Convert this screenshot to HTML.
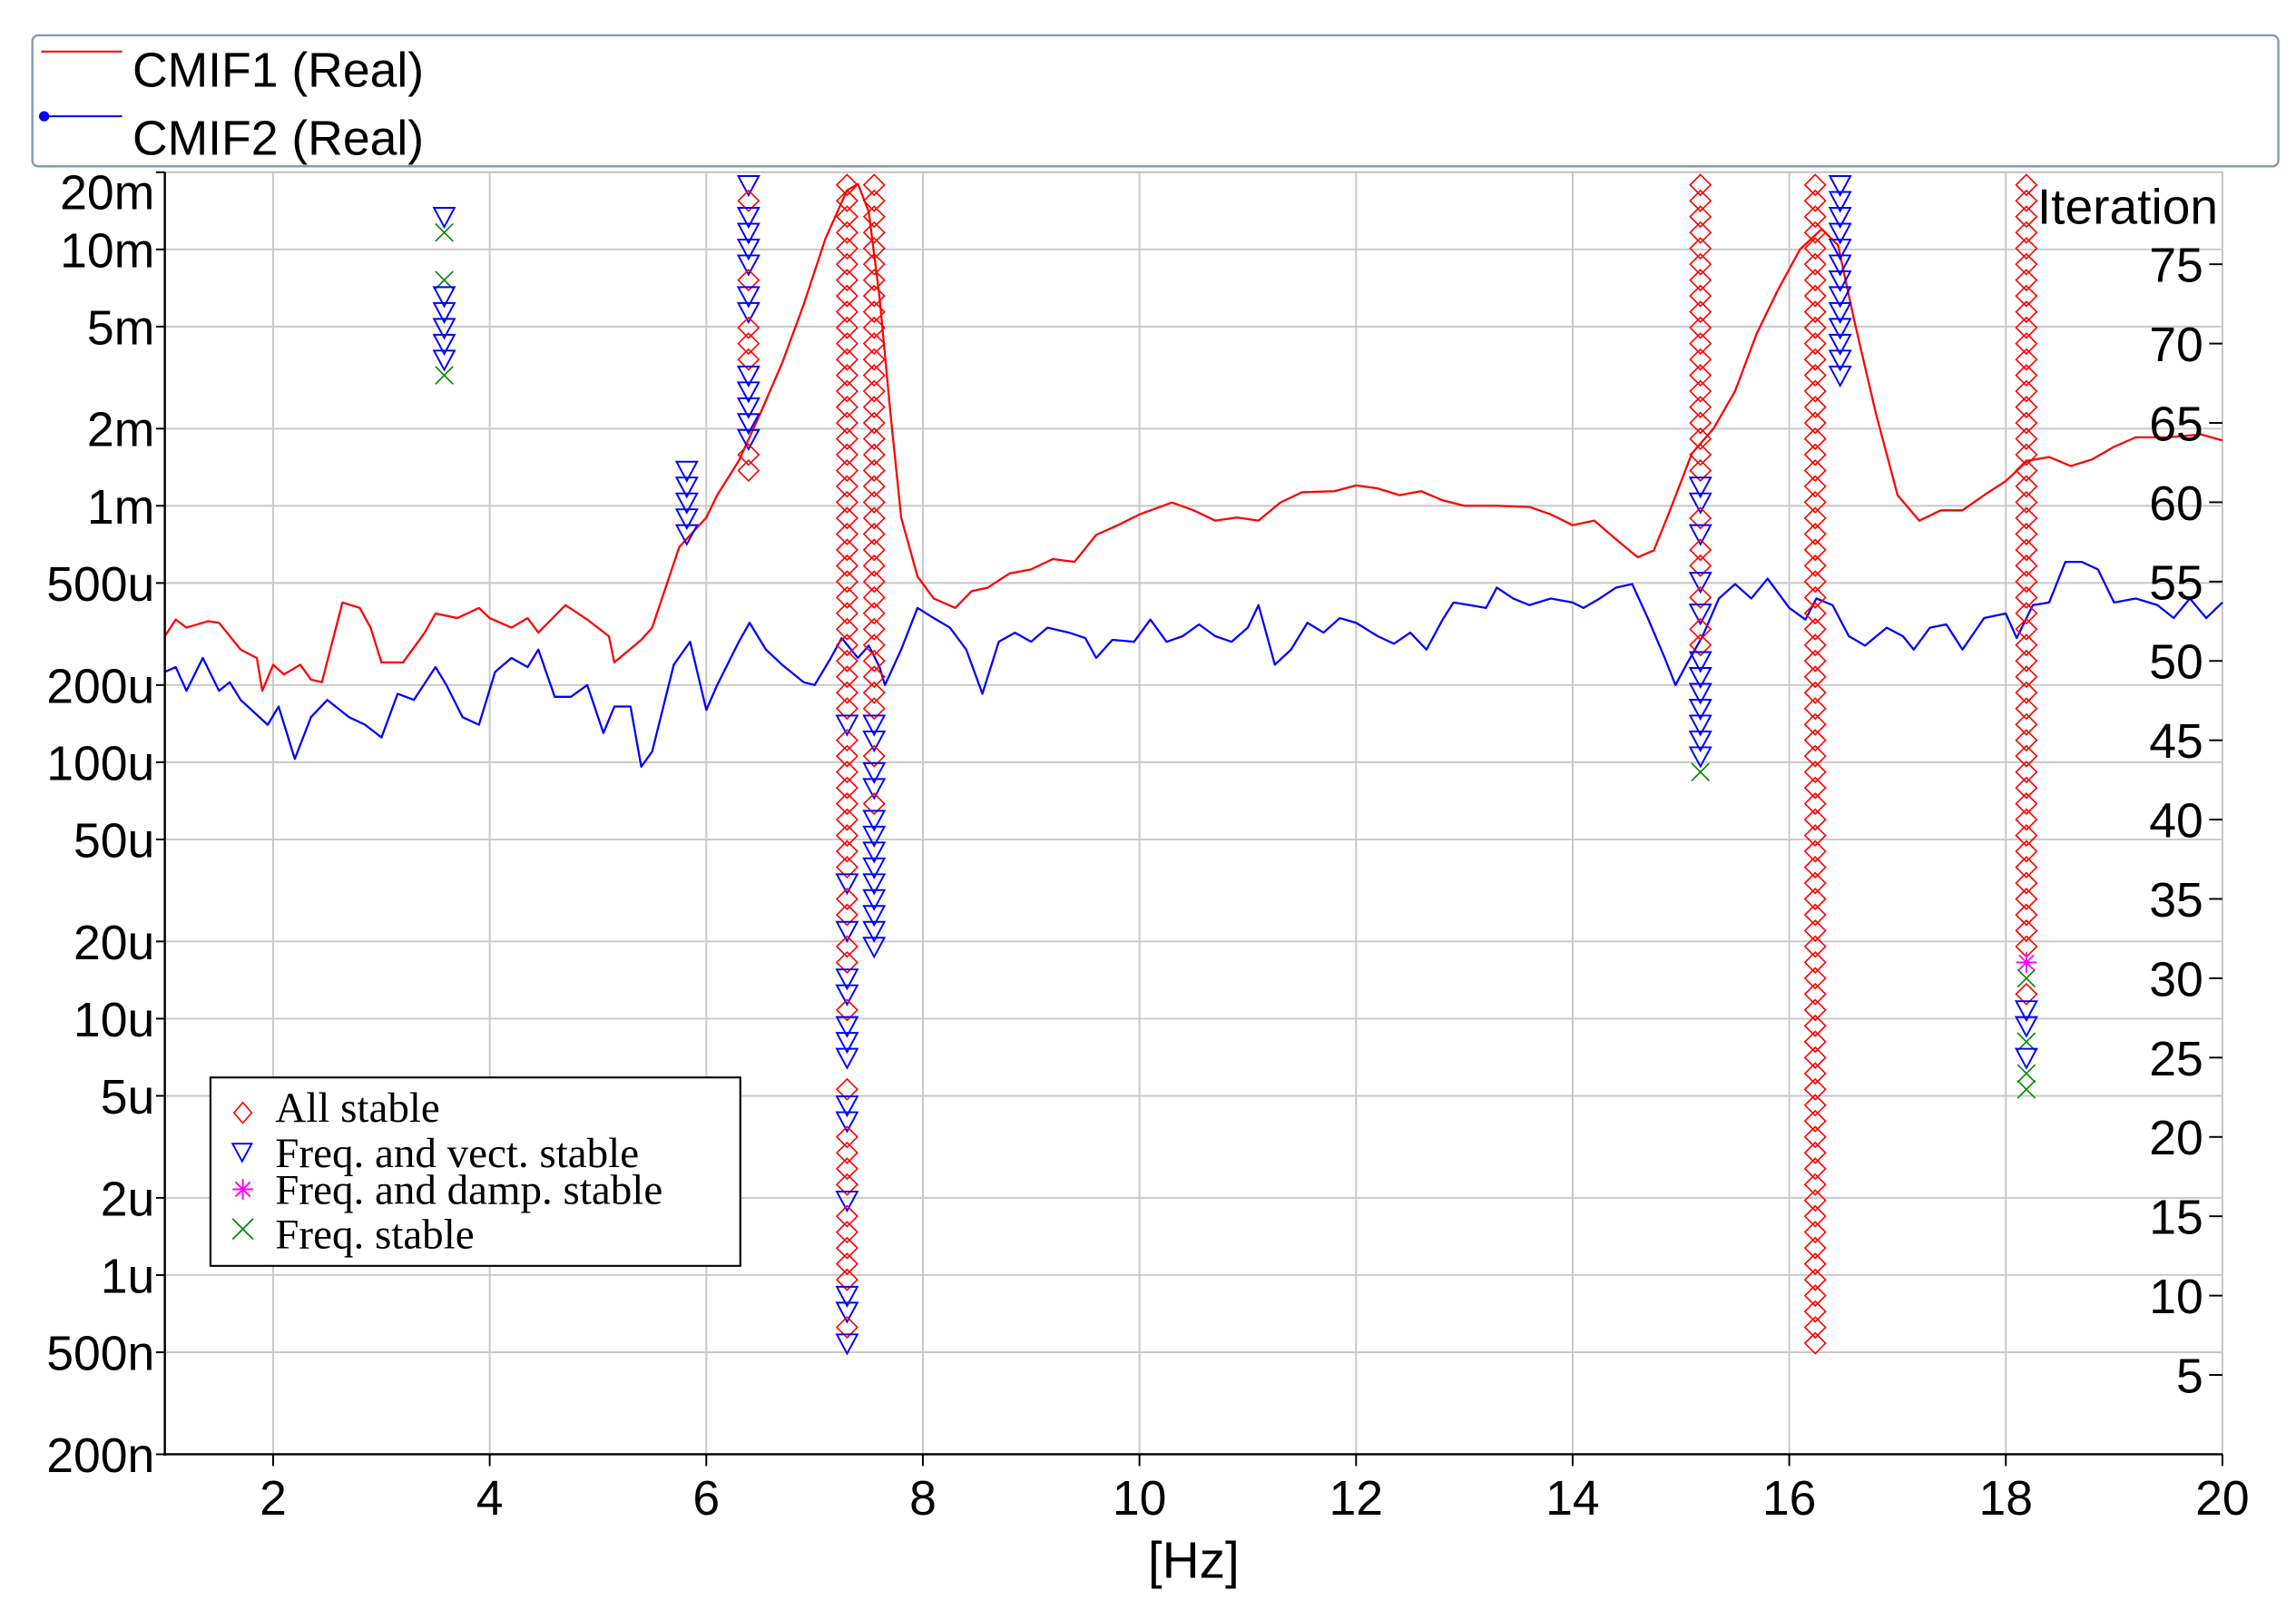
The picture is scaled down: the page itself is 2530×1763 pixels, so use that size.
<!DOCTYPE html>
<html><head><meta charset="utf-8">
<style>
html,body{margin:0;padding:0;background:#fff;}
svg{display:block;}
text{font-family:"Liberation Sans",sans-serif;}
.serif{font-family:"Liberation Serif",serif;}
</style></head>
<body>
<svg id="chart" width="2530" height="1763" viewBox="0 0 1560 1087" preserveAspectRatio="none" xmlns="http://www.w3.org/2000/svg">
<rect x="0" y="0" width="1560" height="1087" fill="#fff"/>
<g id="grid"></g>
<g id="series"></g>
<g id="stab"></g>
<g id="axes"></g>
<g>
<rect x="22" y="24" width="1526" height="89" rx="4" fill="none" stroke="#7f9db9" stroke-width="1.5"/>
<line x1="28" y1="35" x2="83" y2="35" stroke="#f00" stroke-width="1.3"/>
<text x="90" y="59" font-size="33">CMIF1 (Real)</text>
<line x1="28" y1="79" x2="83" y2="79" stroke="#00f" stroke-width="1.3"/>
<circle cx="30" cy="79" r="3.5" fill="#00f"/>
<text x="90" y="105" font-size="33">CMIF2 (Real)</text>
</g>
<g>
<rect x="143" y="732" width="360" height="128" fill="#fff" stroke="#000" stroke-width="1.3"/>
<path d="M165,749 l6,7 l-6,7 l-6,-7 z" fill="none" stroke="#f00" stroke-width="1"/>
<text class="serif" x="187" y="762" font-size="29">All stable</text>
<path d="M158,777 h13 l-6.5,12 z" fill="none" stroke="#00f" stroke-width="1.2"/>
<text class="serif" x="187" y="793" font-size="29">Freq. and vect. stable</text>
<path d="M158,808 h14 M165,801 v14 M160,803 l10,10 M170,803 l-10,10" stroke="#f0f" stroke-width="1.2"/>
<text class="serif" x="187" y="818" font-size="29">Freq. and damp. stable</text>
<path d="M158,828 l14,14 M172,828 l-14,14" stroke="#080" stroke-width="1.1"/>
<text class="serif" x="187" y="848" font-size="29">Freq. stable</text>
</g>
</svg>
<script>
// CMIF curves (frequency in Hz, amplitude)
const cmif1Freq = [1.0,1.1,1.2,1.4,1.5,1.7,1.85,1.9,2.0,2.1,2.25,2.35,2.45,2.64,2.8,2.9,3.0,3.2,3.4,3.5,3.7,3.9,4.0,4.2,4.35,4.45,4.7,4.9,5.1,5.15,5.4,5.5,5.75,6.0,6.1,6.3,6.5,6.7,6.9,7.1,7.3,7.4,7.5,7.6,7.7,7.8,7.95,8.1,8.3,8.45,8.6,8.8,9.0,9.2,9.4,9.6,9.8,10.0,10.3,10.5,10.7,10.9,11.1,11.3,11.5,11.8,12.0,12.2,12.4,12.6,12.8,13.0,13.3,13.6,13.8,14.0,14.2,14.4,14.6,14.75,14.9,15.1,15.3,15.5,15.7,15.9,16.1,16.3,16.45,16.6,16.8,17.0,17.2,17.4,17.6,17.8,18.0,18.2,18.4,18.6,18.8,19.0,19.2,19.5,19.8,20.0];
const cmif1Vals = [310e-6,360e-6,335e-6,355e-6,350e-6,275e-6,255e-6,190e-6,240e-6,220e-6,240e-6,210e-6,205e-6,420e-6,400e-6,335e-6,245e-6,245e-6,320e-6,380e-6,365e-6,400e-6,365e-6,335e-6,365e-6,320e-6,410e-6,360e-6,310e-6,245e-6,300e-6,335e-6,690e-6,900e-6,1.1e-3,1.5e-3,2.3e-3,3.6e-3,6.1e-3,11e-3,17e-3,18e-3,14e-3,6.5e-3,2.3e-3,900e-6,530e-6,435e-6,400e-6,465e-6,480e-6,545e-6,565e-6,620e-6,605e-6,770e-6,840e-6,925e-6,1.03e-3,960e-6,875e-6,900e-6,875e-6,1.03e-3,1.13e-3,1.14e-3,1.2e-3,1.17e-3,1.1e-3,1.14e-3,1.05e-3,1.0e-3,1.0e-3,990e-6,925e-6,840e-6,875e-6,740e-6,630e-6,670e-6,960e-6,1.6e-3,2.0e-3,2.8e-3,4.7e-3,7.0e-3,10e-3,12e-3,10.4e-3,5.3e-3,2.3e-3,1.1e-3,875e-6,960e-6,960e-6,1.1e-3,1.25e-3,1.5e-3,1.55e-3,1.43e-3,1.52e-3,1.7e-3,1.85e-3,1.85e-3,1.9e-3,1.8e-3];
const cmif2Freq = [1.0,1.1,1.2,1.35,1.5,1.6,1.7,1.8,1.95,2.05,2.2,2.35,2.5,2.7,2.85,3.0,3.15,3.3,3.5,3.6,3.75,3.9,4.05,4.2,4.35,4.45,4.6,4.75,4.9,5.05,5.15,5.3,5.4,5.5,5.7,5.85,6.0,6.1,6.3,6.4,6.55,6.7,6.9,7.0,7.15,7.25,7.4,7.5,7.6,7.65,7.8,7.95,8.1,8.25,8.4,8.55,8.7,8.85,9.0,9.15,9.35,9.5,9.6,9.75,9.95,10.1,10.25,10.4,10.55,10.7,10.85,11.0,11.1,11.25,11.4,11.55,11.7,11.85,12.0,12.2,12.35,12.5,12.65,12.8,12.9,13.05,13.2,13.3,13.45,13.6,13.8,14.0,14.1,14.25,14.4,14.55,14.7,14.85,14.95,15.05,15.2,15.35,15.5,15.65,15.8,16.0,16.15,16.25,16.4,16.55,16.7,16.9,17.05,17.15,17.3,17.45,17.6,17.8,18.0,18.1,18.25,18.4,18.55,18.7,18.85,19.0,19.2,19.4,19.55,19.7,19.85,20.0];
const cmif2Vals = [225e-6,235e-6,190e-6,255e-6,190e-6,205e-6,175e-6,160e-6,140e-6,165e-6,103e-6,150e-6,175e-6,150e-6,140e-6,125e-6,185e-6,175e-6,235e-6,200e-6,150e-6,140e-6,225e-6,255e-6,235e-6,275e-6,180e-6,180e-6,200e-6,130e-6,165e-6,165e-6,96e-6,110e-6,240e-6,295e-6,160e-6,200e-6,295e-6,350e-6,275e-6,240e-6,205e-6,200e-6,255e-6,305e-6,255e-6,285e-6,235e-6,200e-6,275e-6,400e-6,365e-6,335e-6,275e-6,185e-6,295e-6,320e-6,295e-6,335e-6,320e-6,305e-6,255e-6,300e-6,295e-6,360e-6,295e-6,310e-6,345e-6,310e-6,295e-6,335e-6,410e-6,240e-6,275e-6,350e-6,320e-6,365e-6,350e-6,310e-6,290e-6,320e-6,275e-6,360e-6,420e-6,410e-6,400e-6,480e-6,435e-6,410e-6,435e-6,420e-6,400e-6,435e-6,480e-6,495e-6,360e-6,255e-6,200e-6,240e-6,310e-6,435e-6,495e-6,435e-6,520e-6,400e-6,360e-6,435e-6,410e-6,310e-6,285e-6,335e-6,310e-6,275e-6,335e-6,345e-6,275e-6,365e-6,380e-6,305e-6,410e-6,420e-6,605e-6,605e-6,565e-6,420e-6,435e-6,410e-6,365e-6,435e-6,365e-6,420e-6];
// Stabilization columns: frequency, top iteration, type string (D=all, T=freq+vect, S=freq+damp, X=freq, .=none)
const stabFreq = [3.58,5.82,6.39,7.30,7.55,15.18,16.24,16.47,18.19];
const stabTop = [78,62,80,80,80,80,80,80,80];
const stabTypes = [
 "TX..XTTTTTX",
 "TTTTT",
 "TDTTTTDTTDDDTTTTTDD",
 "DDDDDDDDDDDDDDDDDDDDDDDDDDDDDDDDDDTDDDDDDDDDTDDTDDTTDTTT.DTTDDDDTDDDDDTTDT",
 "DDDDDDDDDDDDDDDDDDDDDDDDDDDDDDDDDDTTDTTDTTTTTTTTT",
 "DDDDDDDDDDDDDDDDDDDTTDTDDTDTDDTTTTTTTX",
 "DDDDDDDDDDDDDDDDDDDDDDDDDDDDDDDDDDDDDDDDDDDDDDDDDDDDDDDDDDDDDDDDDDDDDDDDDD",
 "TTTTTTTTTTTTT",
 "DDDDDDDDDDDDDDDDDDDDDDDDDDDDDDDDDDDDDDDDDDDDDDDDDSXDTTXTXX"
];
const xTicks = [2,4,6,8,10,12,14,16,18,20];
const yTicks = [20e-3,10e-3,5e-3,2e-3,1e-3,500e-6,200e-6,100e-6,50e-6,20e-6,10e-6,5e-6,2e-6,1e-6,500e-9,200e-9];
const yTickLabels = ["20m","10m","5m","2m","1m","500u","200u","100u","50u","20u","10u","5u","2u","1u","500n","200n"];
const iterTicks = [5,10,15,20,25,30,35,40,45,50,55,60,65,70,75];

const L=112,R=1510,T=117,B=988;
const fx=f=>L+(f-1)/(20-1)*(R-L);
const fy=v=>B-(Math.log10(v)-Math.log10(200e-9))/(Math.log10(20e-3)-Math.log10(200e-9))*(B-T);
const fi=i=>B-i/80.8*(B-T);
const NS="http://www.w3.org/2000/svg";
function mk(tag,attrs,parent){const e=document.createElementNS(NS,tag);for(const k in attrs)e.setAttribute(k,attrs[k]);parent.appendChild(e);return e;}
const grid=document.getElementById('grid'),axes=document.getElementById('axes'),ser=document.getElementById('series'),stab=document.getElementById('stab');

mk('rect',{x:L,y:T,width:R-L,height:B-T,fill:'none',stroke:'#c0c0c0','stroke-width':1.2},grid);
xTicks.forEach(t=>{
 const x=fx(t);
 const g=mk('line',{x1:x,y1:T,x2:x,y2:B,stroke:'#c8c8c8','stroke-width':1.2},grid);
 
 
 const tk=mk('line',{x1:x,y1:B,x2:x,y2:B+8,stroke:'#000','stroke-width':1.2},axes);
 
 
 const tx=mk('text',{x:x,y:B+41,'font-size':33,'text-anchor':'middle'},axes);
 tx.textContent=t;
 
 
});
yTicks.forEach((t,i)=>{
 const y=fy(t);
 if(i>0&&i<yTicks.length-1){
  const g=mk('line',{x1:L,y1:y,x2:R,y2:y,stroke:'#c8c8c8','stroke-width':1.2},grid);
  
  
 }
 const tk=mk('line',{x1:L-6,y1:y,x2:L,y2:y,stroke:'#000','stroke-width':1.2},axes);
 
 
 const tx=mk('text',{x:L-7,y:y+12+(i===0?13:0),'font-size':33,'text-anchor':'end'},axes);
 tx.textContent=yTickLabels[i];
 
 
});
iterTicks.forEach(t=>{
 const y=fi(t);
 const tk=mk('line',{x1:R-9,y1:y,x2:R,y2:y,stroke:'#000','stroke-width':1.2},axes);
 
 
 const tx=mk('text',{x:R-13,y:y+12,'font-size':33,'text-anchor':'end'},axes);
 tx.textContent=t;
 
 
});
const la=mk('line',{x1:L,y1:T,x2:L,y2:B+1,stroke:'#000','stroke-width':1.5},axes);


const ba=mk('line',{x1:L,y1:B,x2:R,y2:B,stroke:'#000','stroke-width':1.5},axes);


const xt=mk('text',{x:(L+R)/2,y:1072,'font-size':35,'text-anchor':'middle'},axes);
xt.textContent='[Hz]';


const it=mk('text',{x:1507,y:152,'font-size':34,'text-anchor':'end'},axes);
it.textContent='Iteration';



function line(fs,vs,color,name){
 const p=mk('polyline',{points:fs.map((f,i)=>fx(f).toFixed(1)+','+fy(vs[i]).toFixed(1)).join(' '),fill:'none',stroke:color,'stroke-width':1.4,'stroke-linejoin':'round'},ser);
 
 
}
line(cmif2Freq,cmif2Vals,'#00f','cmif2-line');
line(cmif1Freq,cmif1Vals,'#f00','cmif1-line');

stabFreq.forEach((f,c)=>{
 const x=fx(f);
 const s=stabTypes[c];
 for(let k=0;k<s.length;k++){
  const ch=s[k]; if(ch==='.')continue;
  const y=fi(stabTop[c]-k);
  let e;
  if(ch==='D') e=mk('path',{d:`M${x},${y-7} l7,7 l-7,7 l-7,-7 z`,fill:'none',stroke:'#f00','stroke-width':1},stab);
  else if(ch==='T') e=mk('path',{d:`M${x-7},${y-6} h14 l-7,13 z`,fill:'none',stroke:'#00f','stroke-width':1.2},stab);
  else if(ch==='X') e=mk('path',{d:`M${x-6},${y-6} l12,12 M${x+6},${y-6} l-12,12`,stroke:'#080','stroke-width':1},stab);
  else e=mk('path',{d:`M${x-7},${y} h14 M${x},${y-7} v14 M${x-5},${y-5} l10,10 M${x+5},${y-5} l-10,10`,stroke:'#f0f','stroke-width':1.1},stab);
  
  
 }
});
</script>
</body></html>
